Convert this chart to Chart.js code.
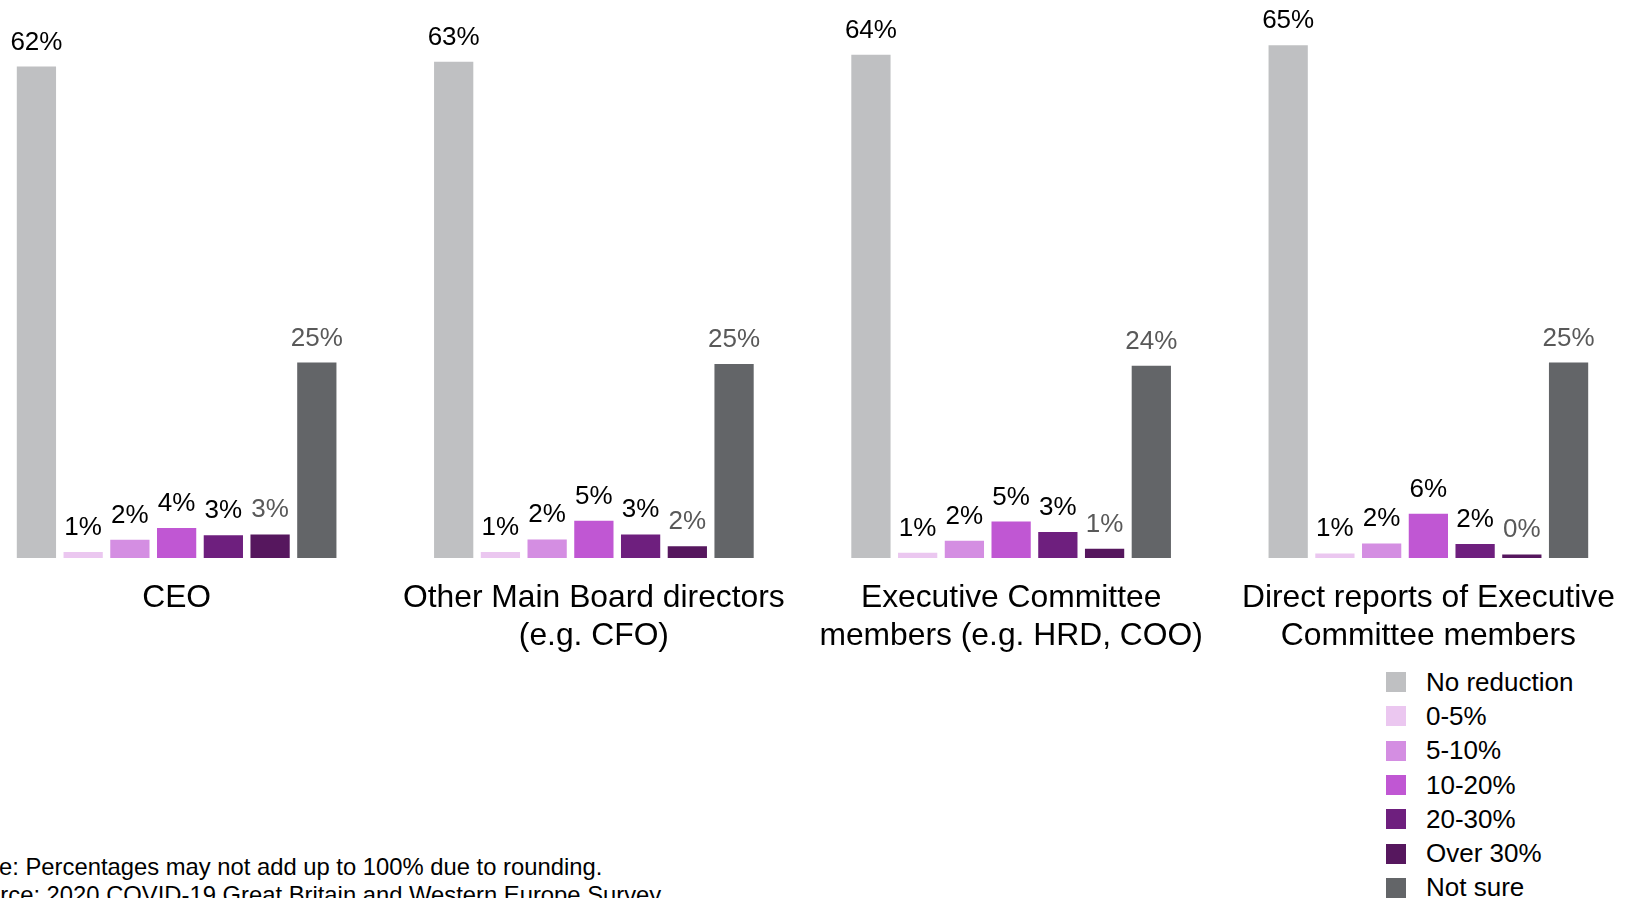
<!DOCTYPE html>
<html lang="en">
<head>
    <meta charset="UTF-8">
    <title>Pay reduction by role</title>
    <style>
        body {
            margin: 0;
            width: 1632px;
            height: 898px;
            overflow: hidden;
            background: #fff;
            position: relative;
            font-family: 'Liberation Sans', Arial, sans-serif;
        }
        #chart {
            position: absolute;
            left: -32px;
            top: 0;
        }
        #legend {
            position: absolute;
            left: 1386px;
            top: 665px;
            font-size: 26px;
            color: #000;
        }
        .legend-row {
            display: flex;
            align-items: center;
            height: 34.3px;
            white-space: nowrap;
        }
        .legend-box {
            width: 20px;
            height: 20px;
            margin-right: 20px;
        }
        .note {
            position: absolute;
            font-size: 23.8px;
            color: #000;
            white-space: nowrap;
            line-height: 27px;
        }
    </style>
    <script src="https://cdn.jsdelivr.net/npm/chart.js@4.4.0/dist/chart.umd.min.js"></script>
</head>
<body>
    <canvas id="chart" width="1669" height="658"></canvas>
    <div id="legend"></div>
    <div class="note" style="top: 853px; left: -38px;">Note: Percentages may not add up to 100% due to rounding.</div>
    <div class="note" style="top: 881px; left: -42px;">Source: 2020 COVID-19 Great Britain and Western Europe Survey</div>

    <script>
        const categories = [
            ['CEO'],
            ['Other Main Board directors', '(e.g. CFO)'],
            ['Executive Committee', 'members (e.g. HRD, COO)'],
            ['Direct reports of Executive', 'Committee members']
        ];

        // values (labels are the rounded values)
        const noReduction = [62.1, 62.7, 63.6, 64.8];
        const pct0to5 = [0.76, 0.76, 0.67, 0.58];
        const pct5to10 = [2.3, 2.34, 2.18, 1.84];
        const pct10to20 = [3.8, 4.7, 4.6, 5.6];
        const pct20to30 = [2.86, 2.97, 3.3, 1.76];
        const over30 = [2.98, 1.5, 1.17, 0.45];
        const notSure = [24.7, 24.5, 24.3, 24.7];

        const seriesNames = ['No reduction', '0-5%', '5-10%', '10-20%', '20-30%', 'Over 30%', 'Not sure'];
        const seriesData = [noReduction, pct0to5, pct5to10, pct10to20, pct20to30, over30, notSure];
        const seriesColors = ['#BFC0C2', '#EBC7F0', '#D48EE2', '#C057D3', '#6E1F7E', '#56175E', '#636568'];
        const labelColors = ['#000', '#000', '#000', '#000', '#000', '#595959', '#595959'];

        const FONT = "'Liberation Sans', Arial, sans-serif";

        // draws the % value above each bar
        const valueLabels = {
            id: 'valueLabels',
            afterDatasetsDraw(chart) {
                const ctx = chart.ctx;
                ctx.save();
                ctx.font = '26px ' + FONT;
                ctx.textAlign = 'center';
                ctx.textBaseline = 'alphabetic';
                chart.data.datasets.forEach((ds, i) => {
                    const meta = chart.getDatasetMeta(i);
                    ctx.fillStyle = labelColors[i];
                    meta.data.forEach((bar, j) => {
                        ctx.fillText(Math.round(ds.data[j]) + '%', bar.x, bar.y - 17);
                    });
                });
                ctx.restore();
            }
        };

        const ctx = document.getElementById('chart').getContext('2d');
        new Chart(ctx, {
            type: 'bar',
            data: {
                labels: categories,
                datasets: seriesNames.map((name, i) => ({
                    label: name,
                    data: seriesData[i],
                    backgroundColor: seriesColors[i],
                    borderWidth: 0,
                    categoryPercentage: 0.784,
                    barPercentage: 0.84
                }))
            },
            options: {
                responsive: false,
                animation: false,
                layout: {
                    padding: { top: 4, left: 0, right: 0, bottom: 0 }
                },
                scales: {
                    x: {
                        grid: { display: false, drawTicks: false },
                        border: { display: false },
                        ticks: {
                            color: '#000',
                            font: { family: FONT, size: 31.8, lineHeight: 1.17 },
                            padding: 22,
                            maxRotation: 0,
                            autoSkip: false
                        },
                        afterFit: s => { s.height = 100; }
                    },
                    y: {
                        display: false,
                        min: 0,
                        max: 70
                    }
                },
                plugins: {
                    legend: { display: false },
                    tooltip: { enabled: false }
                }
            },
            plugins: [valueLabels]
        });

        document.getElementById('legend').innerHTML = seriesNames.map((name, i) => `
            <div class="legend-row">
                <span class="legend-box" style="background-color: ${seriesColors[i]};"></span>
                <span>${name}</span>
            </div>
        `).join('');
    </script>
</body>
</html>
